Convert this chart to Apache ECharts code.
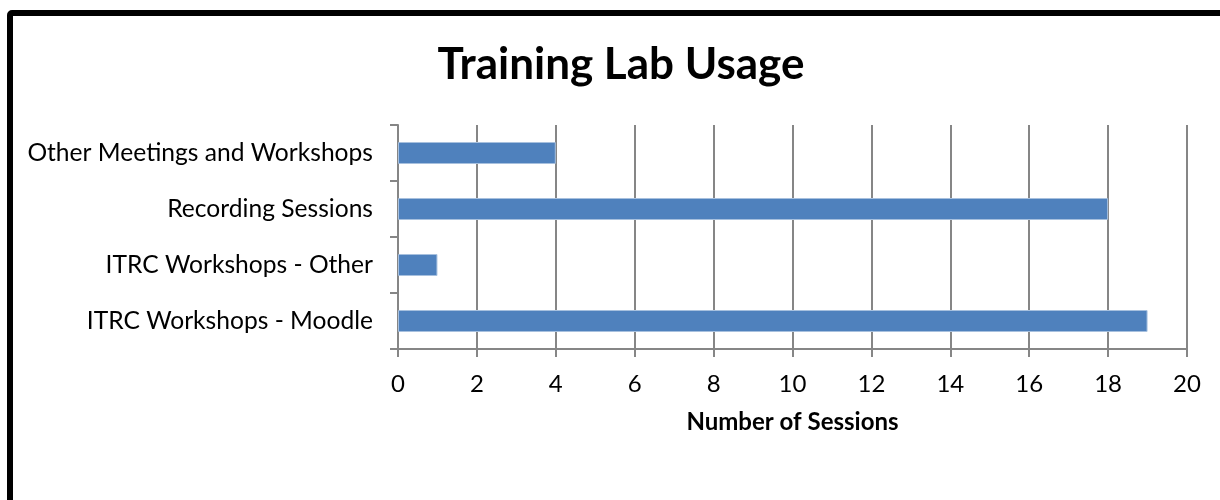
<!DOCTYPE html>
<html>
<head>
<meta charset="utf-8">
<script src="https://cdn.jsdelivr.net/npm/echarts@6/dist/echarts.min.js"></script>
<style>
  html, body { margin: 0; padding: 0; background: #fff; }
  #chart { position: absolute; left: 0; top: 0; width: 1220px; height: 500px; }
  .frame {
    position: absolute; left: 7px; top: 10px; width: 1300px; height: 600px;
    border: 6px solid #000; border-radius: 5px; pointer-events: none;
  }
</style>
</head>
<body>
<div id="chart"></div>
<div class="frame"></div>
<script>
const categories = [
  'ITRC Workshops - Moodle',
  'ITRC Workshops - Other',
  'Recording Sessions',
  'Other Meetings and Workshops'
];
const sessions = [19, 1, 18, 4];

const chart = echarts.init(document.getElementById('chart'));
const font = 'Lato, "Open Sans", sans-serif';

chart.setOption({
  animation: false,
  title: {
    text: 'Training Lab Usage',
    left: 616,
    top: 38,
    textAlign: 'center',
    textStyle: { fontFamily: font, fontSize: 44, fontWeight: 'bold', color: '#000' }
  },
  grid: { left: 398, right: 33, top: 125, bottom: 151 },
  xAxis: {
    type: 'value',
    min: 0,
    max: 20,
    interval: 2,
    name: 'Number of Sessions',
    nameLocation: 'middle',
    nameGap: 61,
    nameTextStyle: { fontFamily: font, fontSize: 24, fontWeight: 'bold', color: '#000' },
    axisLine: { show: true, lineStyle: { color: '#868686', width: 2 } },
    axisTick: { show: true, length: 8, lineStyle: { color: '#868686', width: 2 } },
    axisLabel: { margin: 23, fontFamily: font, fontSize: 24, color: '#000' },
    splitLine: { show: true, lineStyle: { color: '#868686', width: 2 } }
  },
  yAxis: {
    type: 'category',
    data: categories,
    axisLine: { show: true, lineStyle: { color: '#868686', width: 2 } },
    axisTick: { show: true, length: 8, alignWithLabel: false, lineStyle: { color: '#868686', width: 2 } },
    axisLabel: { margin: 25, fontFamily: font, fontSize: 24.6, color: '#000' },
    splitLine: { show: false }
  },
  series: [{
    type: 'bar',
    data: sessions,
    barWidth: 22,
    itemStyle: { color: '#4F81BD', borderColor: '#a7c0de', borderWidth: 1 }
  }]
});
</script>
</body>
</html>
